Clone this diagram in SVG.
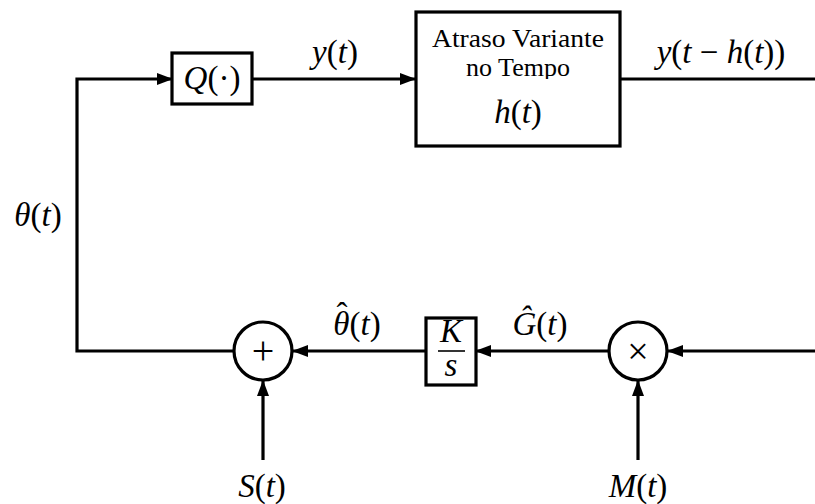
<svg xmlns="http://www.w3.org/2000/svg" width="815" height="504" viewBox="0 0 815 504" font-family="'Liberation Serif', 'DejaVu Serif', serif">
<style>
.ln{fill:none;stroke:#000;stroke-width:3.2}
.bx{fill:#fff;stroke:#000;stroke-width:3.2}
.m{font-style:italic;font-size:33px;fill:#000;text-anchor:middle}
.u{font-style:normal}
.t{font-size:26px;fill:#000;text-anchor:middle}
.s{fill:#000;text-anchor:middle}
</style>
<defs>
<marker id="ah" markerUnits="userSpaceOnUse" markerWidth="16" markerHeight="12" refX="15" refY="6" orient="auto">
<path d="M0,0 L16,6 L0,12 Z" fill="#000"/>
</marker>
<clipPath id="clipTempo"><rect x="416" y="12" width="204" height="67"/></clipPath>
</defs>
<rect width="815" height="504" fill="#fff"/>
<g id="connectors">
<path class="ln" d="M263,351 H77 V79 H172" marker-end="url(#ah)"/>
<path class="ln" d="M252,79 H415" marker-end="url(#ah)"/>
<path class="ln" d="M620,79 H815"/>
<path class="ln" d="M815,351 H668" marker-end="url(#ah)"/>
<path class="ln" d="M608,351 H476" marker-end="url(#ah)"/>
<path class="ln" d="M426,351 H293" marker-end="url(#ah)"/>
<path class="ln" d="M263,460 V381" marker-end="url(#ah)"/>
<path class="ln" d="M638,460 V381" marker-end="url(#ah)"/>
</g>
<g id="quantizer">
<rect class="bx" x="172" y="53" width="80" height="51"/>
<text class="m" x="212" y="89" font-size="31">Q<tspan class="u">(·)</tspan></text>
</g>
<g id="delay">
<rect class="bx" x="416" y="12" width="204" height="134"/>
<text class="t" x="518" y="47" textLength="172" lengthAdjust="spacingAndGlyphs">Atraso Variante</text>
<text class="t" x="518" y="76" clip-path="url(#clipTempo)">no Tempo</text>
<text class="m" x="518" y="123">h<tspan class="u">(</tspan>t<tspan class="u">)</tspan></text>
</g>
<g id="sum">
<circle class="bx" cx="263" cy="351" r="29"/>
<text class="s" x="263" y="364" font-size="40">+</text>
</g>
<g id="integrator">
<rect class="bx" x="426" y="318" width="50" height="67"/>
<text class="m" x="451" y="342" font-size="23">K</text>
<line x1="438" y1="351" x2="465" y2="351" stroke="#000" stroke-width="1.6"/>
<text class="m" x="451" y="376" font-size="23">s</text>
</g>
<g id="product">
<circle class="bx" cx="638" cy="351" r="29"/>
<text class="s" x="638" y="364" font-size="38">×</text>
</g>
<g id="labels">
<text class="m" x="335" y="63">y<tspan class="u">(</tspan>t<tspan class="u">)</tspan></text>
<text class="m" x="721" y="63">y<tspan class="u">(</tspan>t <tspan class="u">−</tspan> h<tspan class="u">(</tspan>t<tspan class="u">))</tspan></text>
<text class="m" x="38" y="226">θ<tspan class="u">(</tspan>t<tspan class="u">)</tspan></text>
<text class="m" x="357" y="335">θ<tspan class="u" dx="-13" dy="-9">ˆ</tspan><tspan class="u" dx="2" dy="9">(</tspan>t<tspan class="u">)</tspan></text>
<text class="m" x="540" y="335">Ĝ<tspan class="u">(</tspan>t<tspan class="u">)</tspan></text>
<text class="m" x="262" y="497">S<tspan class="u">(</tspan>t<tspan class="u">)</tspan></text>
<text class="m" x="638" y="497">M<tspan class="u">(</tspan>t<tspan class="u">)</tspan></text>
</g>
</svg>
